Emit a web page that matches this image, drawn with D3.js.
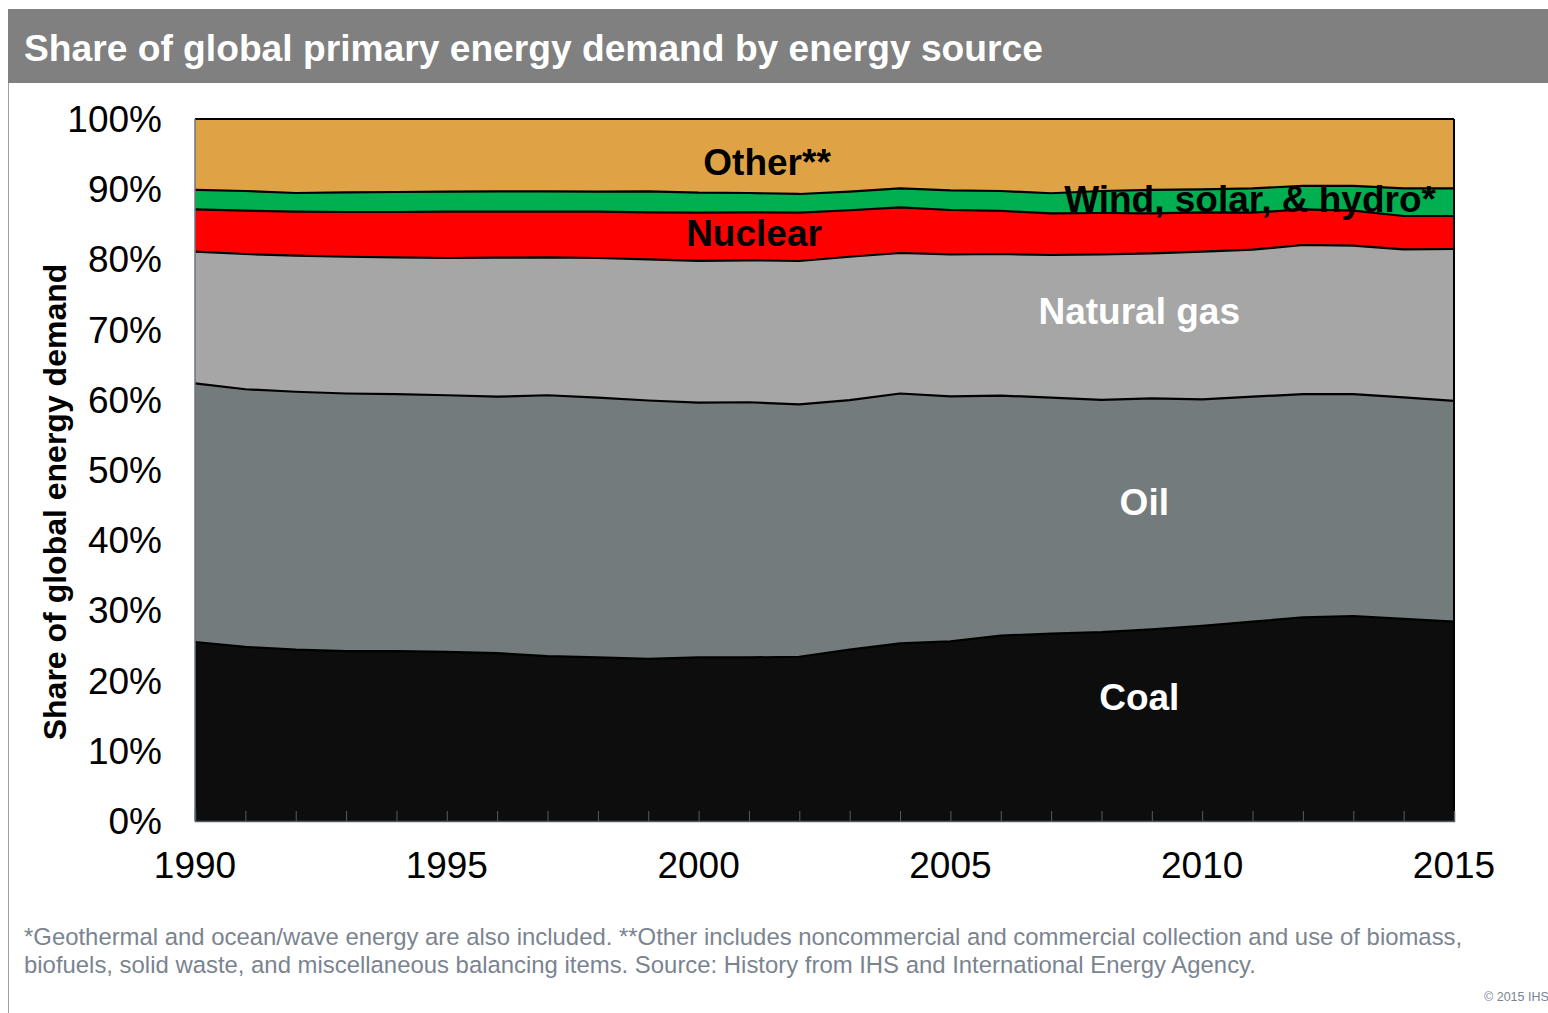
<!DOCTYPE html>
<html>
<head>
<meta charset="utf-8">
<script src="https://cdn.jsdelivr.net/npm/d3@7"></script>
<style>
  body { margin: 0; background: #fff; }
  svg { display: block; font-family: "Liberation Sans", Arial, sans-serif; }
</style>
</head>
<body>
<svg width="1548" height="1013"></svg>
<script>
var years = d3.range(1990, 2016);
var coal = [25.5, 24.8, 24.4, 24.2, 24.2, 24.1, 23.9, 23.5, 23.3, 23.1, 23.3, 23.3, 23.4,
  24.4, 25.3, 25.6, 26.4, 26.7, 26.9, 27.3, 27.8, 28.4, 29.0, 29.2, 28.8, 28.4];
var oil = [36.85, 36.7, 36.75, 36.7, 36.6, 36.55, 36.55, 37.15, 37.0, 36.8, 36.3, 36.35, 35.95,
  35.55, 35.6, 34.9, 34.2, 33.6, 33.1, 32.9, 32.25, 32.05, 31.8, 31.6, 31.55, 31.45];
var gas = [18.75, 19.27, 19.38, 19.48, 19.5, 19.55, 19.79, 19.65, 19.9, 20.1, 20.2, 20.22, 20.42,
  20.43, 20.01, 20.22, 20.17, 20.33, 20.72, 20.67, 21.05, 20.93, 21.25, 21.15, 21.09, 21.63];
var nuclear = [6.04, 6.17, 6.27, 6.37, 6.45, 6.6, 6.56, 6.5, 6.6, 6.71, 6.85, 6.84, 6.88,
  6.62, 6.51, 6.32, 6.13, 5.94, 5.89, 5.7, 5.61, 5.27, 5.09, 4.99, 4.74, 4.7];
var renewables = [2.75, 2.8, 2.66, 2.81, 2.85, 2.85, 2.9, 2.9, 2.85, 2.99, 2.85, 2.75, 2.67,
  2.65, 2.71, 2.8, 2.84, 2.85, 3.13, 3.32, 3.27, 3.48, 3.32, 3.52, 3.95, 3.95];
var other = [10.11, 10.26, 10.54, 10.44, 10.4, 10.35, 10.3, 10.3, 10.35, 10.3, 10.5, 10.54, 10.68,
  10.35, 9.87, 10.16, 10.26, 10.58, 10.26, 10.11, 10.02, 9.87, 9.54, 9.54, 9.87, 9.87];

var keys = ['coal', 'oil', 'gas', 'nuclear', 'renewables', 'other'];
var colors = {coal: '#0d0d0d', oil: '#737b7c', gas: '#a6a6a6', nuclear: '#ff0000',
  renewables: '#00b050', other: '#dfa346'};
var xTicks = [1990, 1995, 2000, 2005, 2010, 2015];
var yTicks = [0, 10, 20, 30, 40, 50, 60, 70, 80, 90, 100];

var table = years.map(function(y, i) {
  return {year: y, coal: coal[i], oil: oil[i], gas: gas[i], nuclear: nuclear[i],
    renewables: renewables[i], other: other[i]};
});

var svg = d3.select('svg');
var padding = {t: 119, l: 195, r: 94, b: 192};
var chartWidth = 1548 - padding.l - padding.r;
var chartHeight = 1013 - padding.t - padding.b;

// title bar
svg.append('rect')
  .attr('x', 8).attr('y', 9).attr('width', 1540).attr('height', 74)
  .attr('fill', '#808080');
svg.append('text')
  .attr('x', 24).attr('y', 61)
  .attr('fill', '#fff')
  .style('font-size', '37.2px').style('font-weight', 'bold')
  .text('Share of global primary energy demand by energy source');
svg.append('line')
  .attr('x1', 8.5).attr('x2', 8.5).attr('y1', 83).attr('y2', 1013)
  .attr('stroke', '#9aa3ad').attr('stroke-width', 1);

var chartG = svg.append('g')
  .attr('transform', 'translate(' + [padding.l, padding.t] + ')');

var xScale = d3.scaleLinear().domain([1990, 2015]).range([0, chartWidth]);
var yScale = d3.scaleLinear().domain([0, 100]).range([chartHeight, 0]);

var stack = d3.stack().keys(keys);
var series = stack(table);

var area = d3.area()
  .x(function(d) { return xScale(d.data.year); })
  .y0(function(d) { return yScale(d[0]); })
  .y1(function(d) { return yScale(d[1]); });

var topLine = d3.line()
  .x(function(d) { return xScale(d.data.year); })
  .y(function(d) { return yScale(d[1]); });

chartG.selectAll('path.area')
  .data(series)
  .enter()
  .append('path')
  .attr('class', 'area')
  .attr('d', area)
  .attr('fill', function(d) { return colors[d.key]; });

// black lines at each boundary (skip the top of the stack)
chartG.selectAll('path.edge')
  .data(series.slice(0, series.length - 1))
  .enter()
  .append('path')
  .attr('class', 'edge')
  .attr('d', topLine)
  .attr('fill', 'none')
  .attr('stroke', '#000')
  .attr('stroke-width', 2.2);

// frame: top and right black
chartG.append('line')
  .attr('x1', 0).attr('x2', chartWidth).attr('y1', 0).attr('y2', 0)
  .attr('stroke', '#000').attr('stroke-width', 2);
chartG.append('line')
  .attr('x1', chartWidth).attr('x2', chartWidth).attr('y1', 0).attr('y2', chartHeight)
  .attr('stroke', '#000').attr('stroke-width', 2);
chartG.append('line')
  .attr('x1', 0).attr('x2', 0).attr('y1', 0).attr('y2', chartHeight)
  .attr('stroke', '#6b7480').attr('stroke-width', 1.5);

// x axis with inward ticks every year
var xAxis = d3.axisBottom(xScale)
  .tickValues(years)
  .tickSize(-10)
  .tickFormat('');
var xAxisG = chartG.append('g')
  .attr('class', 'x-axis')
  .attr('transform', 'translate(0,' + chartHeight + ')')
  .call(xAxis);
xAxisG.select('.domain').attr('stroke', '#555c66').attr('stroke-width', 1.5);
xAxisG.selectAll('.tick line').attr('stroke', '#555c66').attr('stroke-width', 1);

chartG.selectAll('text.xlab')
  .data(xTicks)
  .enter()
  .append('text')
  .attr('class', 'xlab')
  .attr('x', function(d) { return xScale(d); })
  .attr('y', chartHeight + 57)
  .attr('text-anchor', 'middle')
  .style('font-size', '37px')
  .attr('fill', '#000')
  .text(function(d) { return d; });

chartG.selectAll('text.ylab')
  .data(yTicks)
  .enter()
  .append('text')
  .attr('class', 'ylab')
  .attr('x', -33)
  .attr('y', function(d) { return yScale(d); })
  .attr('dy', '0.35em')
  .attr('text-anchor', 'end')
  .style('font-size', '37px')
  .attr('fill', '#000')
  .text(function(d) { return d + '%'; });

svg.append('text')
  .attr('transform', 'translate(66, 502) rotate(-90)')
  .attr('text-anchor', 'middle')
  .style('font-size', '32px').style('font-weight', 'bold')
  .attr('fill', '#000')
  .text('Share of global energy demand');

// series labels
var labels = [
  {text: 'Other**', x: 2001.36, y: 93.9, color: '#000'},
  {text: 'Nuclear', x: 2001.1, y: 83.8, color: '#000'},
  {text: 'Wind, solar, & hydro*', x: 2010.95, y: 88.6, color: '#000'},
  {text: 'Natural gas', x: 2008.75, y: 72.7, color: '#fff'},
  {text: 'Oil', x: 2008.85, y: 45.4, color: '#fff'},
  {text: 'Coal', x: 2008.75, y: 17.6, color: '#fff'}
];
chartG.selectAll('text.series')
  .data(labels)
  .enter()
  .append('text')
  .attr('class', 'series')
  .attr('x', function(d) { return xScale(d.x); })
  .attr('y', function(d) { return yScale(d.y); })
  .attr('dy', '0.35em')
  .attr('text-anchor', 'middle')
  .style('font-size', '37px').style('font-weight', 'bold')
  .attr('fill', function(d) { return d.color; })
  .text(function(d) { return d.text; });

// footnotes
svg.append('text')
  .attr('x', 24).attr('y', 945)
  .style('font-size', '23.9px').attr('fill', '#7a8490')
  .text('*Geothermal and ocean/wave energy are also included. **Other includes noncommercial and commercial collection and use of biomass,');
svg.append('text')
  .attr('x', 24).attr('y', 973)
  .style('font-size', '23.9px').attr('fill', '#7a8490')
  .text('biofuels, solid waste, and miscellaneous balancing items. Source: History from IHS and International Energy Agency.');
svg.append('text')
  .attr('x', 1484).attr('y', 1001)
  .style('font-size', '12.5px').attr('fill', '#7a8490')
  .text('\u00a9 2015 IHS');
</script>
</body>
</html>
